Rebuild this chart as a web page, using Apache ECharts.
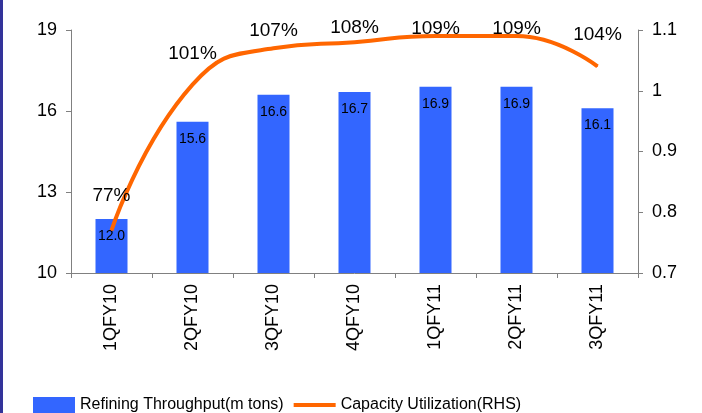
<!DOCTYPE html>
<html>
<head>
<meta charset="utf-8">
<script src="https://cdn.jsdelivr.net/npm/echarts@6/dist/echarts.min.js"></script>
<style>
html,body{margin:0;padding:0;background:#fff;}
#c{width:702px;height:413px;}
</style>
</head>
<body>
<div id="c"></div>
<script>
var categories = ['1QFY10','2QFY10','3QFY10','4QFY10','1QFY11','2QFY11','3QFY11'];
var throughput = [12.0, 15.6, 16.6, 16.7, 16.9, 16.9, 16.1];
var utilization = [0.77, 1.01, 1.07, 1.08, 1.09, 1.09, 1.04];
var leftTicks = [10, 13, 16, 19];
var rightTicks = [0.7, 0.8, 0.9, 1.0, 1.1];
// label distances above the line points (style only)
var lineLabelDist = [25, 21, 7, 4, -3, -3, 22];

var FONT = '"Liberation Sans", Arial, sans-serif';
var chart = echarts.init(document.getElementById('c'), null, {renderer: 'canvas'});
var lineData = utilization.map(function (v, i) {
  return {value: v, label: {distance: lineLabelDist[i]}};
});
chart.setOption({
  animation: false,
  backgroundColor: '#ffffff',
  textStyle: {fontFamily: FONT},
  graphic: [{
    type: 'rect', left: 0, top: 0,
    shape: {width: 3, height: 413},
    style: {fill: '#33339a'}
  }],
  grid: {left: 71, right: 64, top: 30, bottom: 140},
  legend: {
    left: 28, top: 392,
    itemWidth: 42, itemHeight: 16, itemGap: 8,
    textStyle: {fontSize: 16, color: '#000', fontFamily: FONT},
    data: [
      {name: 'Refining Throughput(m tons)', icon: 'rect'},
      {name: 'Capacity Utilization(RHS)', itemStyle: {opacity: 0}, lineStyle: {width: 4, color: '#ff6600'}}
    ]
  },
  xAxis: {
    type: 'category',
    data: categories,
    boundaryGap: true,
    axisLine: {lineStyle: {color: '#808080', width: 1}},
    axisTick: {show: true, alignWithLabel: false, length: 5, lineStyle: {color: '#808080'}},
    axisLabel: {rotate: 90, fontSize: 18, color: '#000', margin: 11, fontFamily: FONT}
  },
  yAxis: [{
    type: 'value',
    min: leftTicks[0], max: leftTicks[leftTicks.length - 1], interval: 3,
    position: 'left',
    splitLine: {show: false},
    axisLine: {show: true, lineStyle: {color: '#808080'}},
    axisTick: {show: true, length: 5, lineStyle: {color: '#808080'}},
    axisLabel: {fontSize: 18, color: '#000', margin: 14, fontFamily: FONT}
  }, {
    type: 'value',
    min: rightTicks[0], max: rightTicks[rightTicks.length - 1], interval: 0.1,
    position: 'right',
    splitLine: {show: false},
    axisLine: {show: true, lineStyle: {color: '#808080'}},
    axisTick: {show: true, length: 5, lineStyle: {color: '#808080'}},
    axisLabel: {
      fontSize: 18, color: '#000', margin: 14, fontFamily: FONT,
      formatter: function (v) { return String(Math.round(v * 10) / 10); }
    }
  }],
  series: [{
    name: 'Refining Throughput(m tons)',
    type: 'bar',
    data: throughput,
    barWidth: 32,
    itemStyle: {color: '#3366ff'},
    label: {
      show: true, position: 'insideTop', distance: 10,
      fontSize: 14, color: '#000', fontFamily: FONT,
      formatter: function (p) { return p.value.toFixed(1); }
    },
    z: 2
  }, {
    name: 'Capacity Utilization(RHS)',
    type: 'line',
    yAxisIndex: 1,
    data: lineData,
    smooth: 0.5,
    symbol: 'circle',
    symbolSize: 1,
    showSymbol: true,
    lineStyle: {color: '#ff6600', width: 4},
    itemStyle: {color: '#ff6600'},
    label: {
      show: true, position: 'top',
      fontSize: 19, color: '#000', fontFamily: FONT,
      formatter: function (p) { return Math.round(p.value * 100) + '%'; }
    },
    z: 3
  }]
});
</script>
</body>
</html>
